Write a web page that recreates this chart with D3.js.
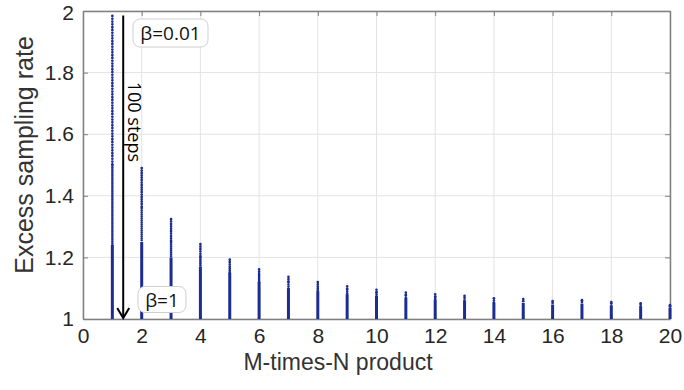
<!DOCTYPE html>
<html>
<head>
<meta charset="UTF-8">
<script src="https://d3js.org/d3.v7.min.js"></script>
<style>
  body { margin: 0; background: #fff; }
  text { font-family: "Liberation Sans", Arial, sans-serif; }
  .note { font-family: "Open Sans", "Noto Sans", sans-serif; }
</style>
</head>
<body>
<div id="chart"></div>
<script>
// M-times-N product (one dotted stack per value)
const mnProduct = [1, 2, 3, 4, 5, 6, 7, 8, 9, 10, 11, 12, 13, 14, 15, 16, 17, 18, 19, 20];
// excess sampling rate at beta = 0.01 (top of each stack)
const topRate = [1.984, 1.49, 1.324, 1.243, 1.193, 1.161, 1.137, 1.12, 1.106, 1.095,
                 1.086, 1.080, 1.075, 1.067, 1.065, 1.058, 1.061, 1.055, 1.051, 1.045];
// rate where the beta steps start to crowd together
const denseTo = [1.5, 1.36, 1.25, 1.2, 1.17, 1.14, 1.12, 1.105, 1.095, 1.085,
                 1.077, 1.072, 1.068, 1.06, 1.058, 1.052, 1.055, 1.05, 1.046, 1.041];
// rate below which the 100 beta steps merge into a solid line
const solidTo = [1.24, 1.25, 1.2, 1.17, 1.15, 1.12, 1.1, 1.09, 1.08, 1.075,
                 1.068, 1.063, 1.06, 1.053, 1.052, 1.047, 1.05, 1.045, 1.042, 1.037];

const xTicks = [0, 2, 4, 6, 8, 10, 12, 14, 16, 18, 20];
const yTicks = [1, 1.2, 1.4, 1.6, 1.8, 2];

// annotation: the arrow showing beta going from 0.01 to 1
const arrowX = 1.37;
const arrowFrom = 1.985;
const arrowTo = 1.0;

const width = 684, height = 390;
const margin = { left: 83, right: 14, top: 11, bottom: 71 };

const svg = d3.select("#chart").append("svg")
  .attr("width", width)
  .attr("height", height);

const x = d3.scaleLinear().domain([0, 20]).range([margin.left, width - margin.right]);
const y = d3.scaleLinear().domain([1, 2]).range([height - margin.bottom, margin.top]);

// grid
svg.append("g").selectAll("line")
  .data(xTicks)
  .enter().append("line")
  .attr("x1", d => x(d)).attr("x2", d => x(d))
  .attr("y1", y(1)).attr("y2", y(2))
  .attr("stroke", "#e3e3e3").attr("stroke-width", 1);
svg.append("g").selectAll("line")
  .data(yTicks)
  .enter().append("line")
  .attr("x1", x(0)).attr("x2", x(20))
  .attr("y1", d => y(d)).attr("y2", d => y(d))
  .attr("stroke", "#e3e3e3").attr("stroke-width", 1);

// axes (MATLAB style: ticks inside, box around)
const axisColor = "#808080";
const xAxis = svg.append("g")
  .attr("transform", `translate(0,${y(1)})`)
  .call(d3.axisBottom(x).tickValues(xTicks).tickSizeInner(-5).tickSizeOuter(0).tickPadding(9));
const yAxis = svg.append("g")
  .attr("transform", `translate(${x(0)},0)`)
  .call(d3.axisLeft(y).tickValues(yTicks).tickSizeInner(-5).tickSizeOuter(0).tickPadding(9).tickFormat(d3.format("~g")));
const xTop = svg.append("g")
  .attr("transform", `translate(0,${y(2)})`)
  .call(d3.axisTop(x).tickValues(xTicks).tickSizeInner(-5).tickSizeOuter(0).tickFormat(""));
const yRight = svg.append("g")
  .attr("transform", `translate(${x(20)},0)`)
  .call(d3.axisRight(y).tickValues(yTicks).tickSizeInner(-5).tickSizeOuter(0).tickFormat(""));

[xAxis, yAxis, xTop, yRight].forEach(a => {
  a.select(".domain").attr("stroke", axisColor).attr("stroke-width", 1.5);
  a.selectAll(".tick line").attr("stroke", axisColor).attr("stroke-width", 1);
  a.selectAll(".tick text").attr("fill", "#262626").style("font-size", "21px")
    .style("font-family", "'Liberation Sans', Arial, sans-serif");
});
// keep the top "2" label clear of the page edge
yAxis.selectAll(".tick text").filter(d => d === 2).attr("dy", "0.42em");

// stacks of beta steps: sparse dots, crowded dots, then solid
const dotColor = "#1b2d91";
const stacks = svg.append("g");
mnProduct.forEach((m, i) => {
  stacks.append("line")
    .attr("x1", x(m)).attr("x2", x(m))
    .attr("y1", y(1)).attr("y2", y(solidTo[i]))
    .attr("stroke", dotColor).attr("stroke-width", 3);
  stacks.append("line")
    .attr("x1", x(m)).attr("x2", x(m))
    .attr("y1", y(Math.min(denseTo[i], topRate[i]))).attr("y2", y(solidTo[i]))
    .attr("stroke", dotColor).attr("stroke-width", 2.7)
    .attr("stroke-linecap", "round")
    .attr("stroke-dasharray", "0,2");
  stacks.append("line")
    .attr("x1", x(m)).attr("x2", x(m))
    .attr("y1", y(topRate[i])).attr("y2", y(Math.max(denseTo[i], solidTo[i])))
    .attr("stroke", dotColor).attr("stroke-width", 2.7)
    .attr("stroke-linecap", "round")
    .attr("stroke-dasharray", i === 0 ? "0,2.8" : "0,2.4");
});

// arrow
svg.append("line")
  .attr("x1", x(arrowX)).attr("x2", x(arrowX))
  .attr("y1", y(arrowFrom)).attr("y2", y(arrowTo) - 1)
  .attr("stroke", "#000").attr("stroke-width", 2);
svg.append("path")
  .attr("d", `M${x(arrowX) - 6},${y(arrowTo) - 11} L${x(arrowX)},${y(arrowTo) - 1} L${x(arrowX) + 6},${y(arrowTo) - 11}`)
  .attr("fill", "none").attr("stroke", "#000").attr("stroke-width", 2);

svg.append("text")
  .attr("class", "note")
  .attr("transform", `translate(${x(arrowX) + 5},${y(1.64)}) rotate(90)`)
  .attr("text-anchor", "middle")
  .style("font-size", "18px")
  .attr("fill", "#000")
  .text("100 steps");

// labelled boxes
function noteBox(cx, cy, w, h, label) {
  svg.append("rect")
    .attr("x", cx - w / 2).attr("y", cy - h / 2)
    .attr("width", w).attr("height", h)
    .attr("rx", 7)
    .attr("fill", "#fff").attr("stroke", "#cfcfcf").attr("stroke-width", 1);
  svg.append("text")
    .attr("class", "note")
    .attr("x", cx).attr("y", cy + 7)
    .attr("text-anchor", "middle")
    .style("font-size", "19px")
    .attr("fill", "#111")
    .text(label);
}
noteBox(170.5, 33, 75, 28, "β=0.01");
noteBox(162, 299.5, 48, 26, "β=1");

// axis titles
svg.append("text")
  .attr("x", 338).attr("y", 370)
  .attr("text-anchor", "middle")
  .style("font-size", "23px")
  .attr("fill", "#333")
  .text("M-times-N product");
svg.append("text")
  .attr("transform", `translate(33,155) rotate(-90)`)
  .attr("text-anchor", "middle")
  .style("font-size", "25px")
  .attr("fill", "#333")
  .text("Excess sampling rate");
</script>
</body>
</html>
